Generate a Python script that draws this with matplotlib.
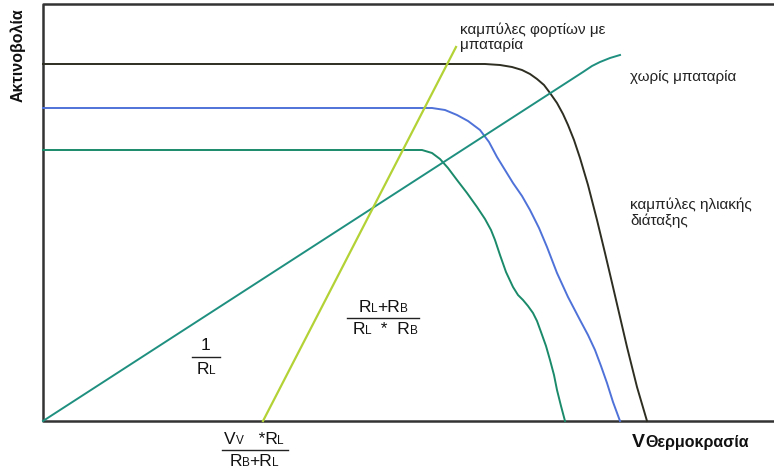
import matplotlib.pyplot as plt
from matplotlib.offsetbox import TextArea, HPacker, AnnotationBbox

plt.rcParams['font.family'] = ['Liberation Sans', 'DejaVu Sans']

# curves (x, y in picture units, y grows downwards)
full_x = [43, 470, 485, 500, 512, 522, 530, 537, 544, 550, 557, 563, 568,
          574, 580, 588, 597, 605, 613, 620, 627, 632, 637, 642, 647]
full_y = [64, 64, 64, 65, 67, 70, 74, 79, 85, 93, 103, 114, 125,
          140, 158, 185, 220, 253, 287, 317, 347, 367, 387, 404, 421]

mid_x = [43, 420, 432, 445, 457, 468, 480, 489, 497, 505, 513, 522, 530,
         539, 547, 557, 568, 580, 588, 595, 601, 607, 613, 620]
mid_y = [108, 108, 108, 110, 115, 121, 130, 142, 157, 170, 183, 196, 210,
         228, 247, 273, 297, 320, 335, 350, 366, 383, 402, 421]

low_x = [43, 412, 422, 432, 440, 448, 457, 467, 477, 485, 491, 495, 500,
         506, 513, 518, 523, 528, 533, 537, 541, 546, 550, 554, 557, 561,
         565]
low_y = [150, 150, 150, 153, 159, 168, 180, 193, 207, 219, 230, 240, 255,
         272, 287, 295, 300, 306, 313, 321, 332, 346, 360, 375, 390, 406,
         421]

# load line without battery (1/RL)
load_x = [43, 583, 592, 600, 610, 620]
load_y = [421, 72, 66, 62, 58, 55]

# load line with battery
batt_x = [263, 456]
batt_y = [421, 47]

fig = plt.figure(figsize=(7.74, 4.71), dpi=100)
ax = fig.add_axes([0, 0, 1, 1])
ax.set_xlim(0, 774)
ax.set_ylim(471, 0)
ax.axis('off')

# frame
ax.plot([774, 43, 43, 774], [4, 4, 421, 421], color='#333333', lw=1.8,
        solid_capstyle='butt', zorder=1)

ax.plot(full_x, full_y, color='#2e2e22', lw=1.4, zorder=3)
ax.plot(mid_x, mid_y, color='#4f72d9', lw=1.4, zorder=3)
ax.plot(low_x, low_y, color='#1a8a6a', lw=1.4, zorder=3)
ax.plot(load_x, load_y, color='#1f9080', lw=1.4, zorder=3)
ax.plot(batt_x, batt_y, color='#b3d236', lw=1.6, zorder=3)

ax.text(18, 55, 'Ακτινοβολία', rotation=90, ha='center', va='center',
        fontsize=11.5, fontweight='bold', color='#111111')

ax.text(460, 37, 'καμπύλες φορτίων με\nμπαταρία', ha='left', va='center',
        fontsize=11, linespacing=1.1, color='#222222')
ax.text(630, 77, 'χωρίς μπαταρία', ha='left', va='center',
        fontsize=11, color='#222222')
ax.text(630, 213, 'καμπύλες ηλιακής\nδιάταξης', ha='left', va='center',
        fontsize=11, linespacing=1.1, color='#222222')

ax.text(632, 447, 'V', ha='left', va='baseline', fontsize=14,
        fontweight='bold', color='#111111')
ax.text(645, 447, 'Θερμοκρασία', ha='left', va='baseline', fontsize=11.5,
        fontweight='bold', color='#111111')


def rich(parts, x, y):
    # pieces of text of different sizes sitting on one baseline
    kids = [TextArea(s, textprops=dict(fontsize=fs, color='#111111'))
            for s, fs in parts]
    box = HPacker(children=kids, align='baseline', pad=0, sep=0)
    ab = AnnotationBbox(box, (x, y), frameon=False, box_alignment=(0.5, 0.5),
                        pad=0)
    ax.add_artist(ab)


def bar(xc, y, half):
    ax.plot([xc - half, xc + half], [y, y], color='#222222', lw=1)


big, small = 12.5, 8.5

rich([('1', big)], 205, 346)
bar(206, 357, 14)
rich([('R', big), ('L', small)], 206, 369)

rich([('R', big), ('L', small), ('+R', big), ('B', small)], 383, 308)
bar(383, 318, 36)
rich([('R', big), ('L', small), ('  *  R', big), ('B', small)], 385, 329)

rich([('V', big), ('V', small), ('   *R', big), ('L', small)], 254, 440)
bar(255, 450, 33)
rich([('R', big), ('B', small), ('+R', big), ('L', small)], 254, 461)

fig.savefig('out.png', dpi=100)
